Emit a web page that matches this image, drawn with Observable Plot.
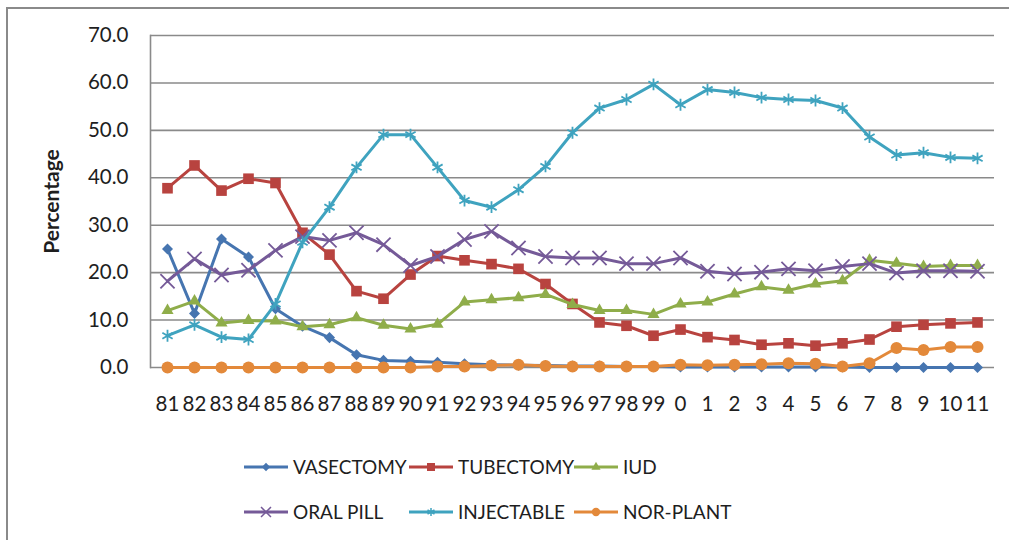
<!DOCTYPE html>
<html>
<head>
<meta charset="utf-8">
<script src="https://cdn.jsdelivr.net/npm/d3@7"></script>
<script src="https://cdn.jsdelivr.net/npm/@observablehq/plot@0.6"></script>
<style>
  html, body { margin: 0; padding: 0; background: #fff; }
  body { width: 1009px; height: 540px; position: relative; overflow: hidden; font-family: Lato, "Liberation Sans", sans-serif; }
  #frame { position: absolute; left: 6px; top: 7px; width: 1100px; height: 600px; border-left: 2px solid #8a8a8a; border-top: 2px solid #8a8a8a; }
  #chart { position: absolute; left: 0; top: 0; }
  #legend { position: absolute; left: 0; top: 430px; }
</style>
</head>
<body>
<div id="frame"></div>
<div id="chart"></div>
<div id="legend"></div>
<script>
const years = ["81","82","83","84","85","86","87","88","89","90","91","92","93","94","95","96","97","98","99","0","1","2","3","4","5","6","7","8","9","10","11"];
const seriesNames = ["VASECTOMY","TUBECTOMY","IUD","ORAL PILL","INJECTABLE","NOR-PLANT"];
const vasectomy  = [25.0,11.4,27.1,23.3,12.4,8.7,6.3,2.7,1.5,1.3,1.1,0.8,0.6,0.5,0.4,0.3,0.3,0.2,0.2,0.1,0.1,0.1,0.1,0.1,0.1,0.1,0.0,0.0,0.0,0.0,0.0];
const tubectomy  = [37.8,42.6,37.3,39.8,38.9,28.4,23.8,16.1,14.5,19.6,23.5,22.6,21.8,20.8,17.6,13.4,9.5,8.8,6.7,8.0,6.4,5.8,4.8,5.1,4.6,5.1,5.9,8.6,9.0,9.3,9.5];
const iud        = [12.0,14.0,9.4,9.9,9.8,8.6,9.0,10.5,8.9,8.1,9.1,13.8,14.3,14.7,15.4,13.3,12.0,12.0,11.2,13.4,13.8,15.5,17.0,16.3,17.6,18.3,22.6,22.0,21.3,21.5,21.5];
const oralPill   = [18.2,22.9,19.5,20.5,24.7,27.6,26.8,28.4,25.9,21.5,23.4,27.0,28.7,25.2,23.4,23.1,23.1,21.9,21.9,23.1,20.3,19.7,20.1,20.8,20.4,21.3,21.9,19.9,20.4,20.4,20.3];
const injectable = [6.7,9.0,6.4,5.9,13.4,26.4,33.8,42.2,49.1,49.1,42.2,35.2,33.8,37.5,42.4,49.5,54.7,56.5,59.7,55.4,58.6,58.0,56.9,56.5,56.3,54.7,48.6,44.8,45.3,44.3,44.1];
const norPlant   = [0.0,0.0,0.0,0.0,0.0,0.0,0.0,0.0,0.0,0.0,0.2,0.2,0.4,0.6,0.3,0.2,0.2,0.2,0.2,0.6,0.5,0.6,0.7,0.9,0.8,0.2,0.9,4.1,3.7,4.3,4.3];
const yTicks = [0,10,20,30,40,50,60,70];

const colors  = ["#4675b0","#b8433f","#8fad4a","#755a98","#3fa3bf","#e3893a"];
// diamond is drawn as a square rotated by 45 degrees (Excel-style diamond)
const symbols = ["square","square","triangle","times","asterisk","circle"];
const rotations = [45,0,0,0,0,0];
const radii   = [4.4,6.0,4.5,6.5,5.6,6.0];
const legRadii= [3.3,4.5,3.4,4.6,3.8,4.2];

const allSeries = [vasectomy, tubectomy, iud, oralPill, injectable, norPlant];
const data = [];
allSeries.forEach((vals, si) => vals.forEach((v, i) => data.push({year: years[i], value: v, series: seriesNames[si]})));

const font = "Lato, 'Liberation Sans', sans-serif";
const marks = [
  Plot.ruleY(yTicks, {stroke: "#8a8a8a", strokeWidth: 1.6}),
  Plot.frame({anchor: "left", stroke: "#8a8a8a", strokeWidth: 1.6}),
  Plot.axisY({ticks: yTicks, tickSize: 0, tickPadding: 22, tickFormat: d => d.toFixed(1), fontSize: 20.5, fill: "#1e1e1e", label: null}),
  Plot.axisX({tickSize: 0, tickPadding: 29, fontSize: 20.5, fill: "#1e1e1e", label: null}),
  Plot.text(["Percentage"], {frameAnchor: "left", dx: -98, rotate: -90, textAnchor: "middle", fontSize: 21, fontWeight: "bold", fill: "#1e1e1e"})
];
seriesNames.forEach((name, si) => {
  const d = data.filter(r => r.series === name);
  marks.push(Plot.line(d, {x: "year", y: "value", stroke: colors[si], strokeWidth: 3, curve: "linear"}));
  const stroked = symbols[si] === "times" || symbols[si] === "asterisk";
  marks.push(Plot.dot(d, stroked
    ? {x: "year", y: "value", symbol: () => symbols[si], r: radii[si], stroke: colors[si], strokeWidth: 1.8, fill: "none"}
    : {x: "year", y: "value", symbol: () => symbols[si], r: radii[si], rotate: rotations[si], fill: colors[si], stroke: "none"}));
});

const chart = Plot.plot({
  width: 1009,
  height: 430,
  marginLeft: 150,
  marginRight: 15,
  marginTop: 35,
  marginBottom: 63,
  style: {fontFamily: font, background: "transparent", overflow: "visible"},
  x: {type: "point", domain: years, padding: 0.5},
  y: {domain: [0, 70]},
  symbol: {domain: ["square","triangle","times","asterisk","circle"], range: ["square","triangle","times","asterisk","circle"]},
  marks
});
document.getElementById("chart").appendChild(chart);

// Legend (HTML-side SVG below the chart)
const legW = 1009, legH = 110;
const leg = d3.select("#legend").append("svg").attr("width", legW).attr("height", legH)
  .style("font-family", font);
const colX = [244, 409, 574];
const rowY = [37, 82];
const symMap = {square: d3.symbolSquare, triangle: d3.symbolTriangle, times: d3.symbolTimes, asterisk: d3.symbolAsterisk, circle: d3.symbolCircle};
seriesNames.forEach((name, si) => {
  const cx = colX[si % 3], cy = rowY[Math.floor(si / 3)];
  const g = leg.append("g").attr("transform", `translate(${cx},${cy})`);
  g.append("line").attr("x1", 0).attr("x2", 44).attr("y1", 0).attr("y2", 0).attr("stroke", colors[si]).attr("stroke-width", 3);
  const stroked = symbols[si] === "times" || symbols[si] === "asterisk";
  const r = legRadii[si];
  g.append("path").attr("transform", `translate(22,0) rotate(${rotations[si]})`)
    .attr("d", d3.symbol(symMap[symbols[si]], Math.PI * r * r)())
    .attr("fill", stroked ? "none" : colors[si])
    .attr("stroke", stroked ? colors[si] : "none")
    .attr("stroke-width", 1.5);
  g.append("text").attr("x", 49).attr("y", 0).attr("dy", "0.35em").attr("font-size", 19).attr("fill", "#1e1e1e").text(name);
});
</script>
</body>
</html>
